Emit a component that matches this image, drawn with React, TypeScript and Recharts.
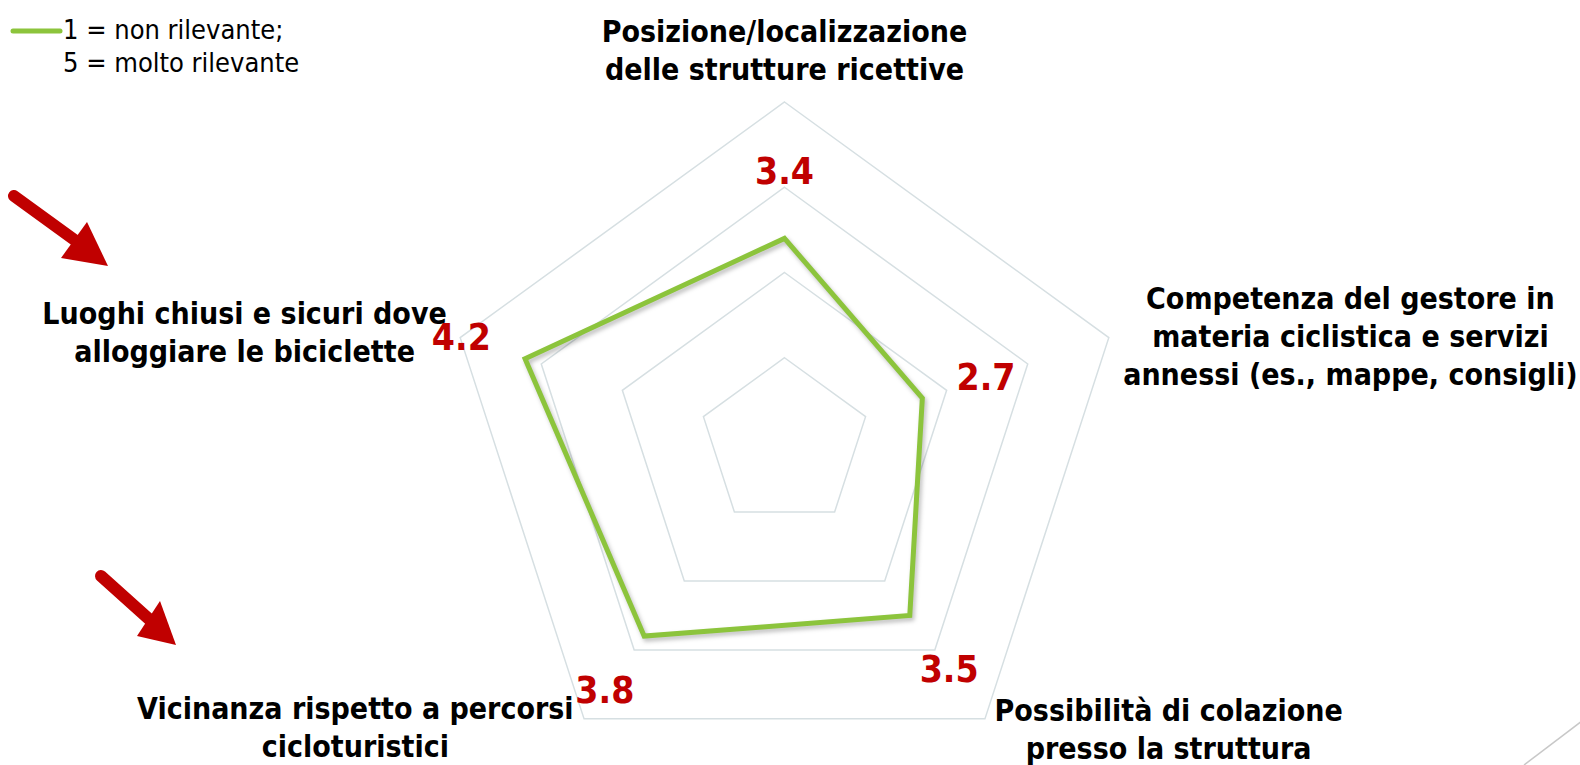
import React from 'react';
import {
  RadarChart,
  Radar,
  PolarGrid,
  PolarAngleAxis,
  PolarRadiusAxis,
} from 'recharts';

const categories = [
  'Posizione/localizzazione\ndelle strutture ricettive',
  'Competenza del gestore in\nmateria ciclistica e servizi\nannessi (es., mappe, consigli)',
  'Possibilità di colazione\npresso la struttura',
  'Vicinanza rispetto a percorsi\ncicloturistici',
  'Luoghi chiusi e sicuri dove\nalloggiare le biciclette',
];
const scores = [3.4, 2.7, 3.5, 3.8, 4.2];
const scaleTicks = [1, 2, 3, 4, 5];
const legendLines = ['1 = non rilevante;', '5 = molto rilevante'];

const data = categories.map((c, i) => ({ category: c, score: scores[i] }));

const W = 1580;
const H = 765;
const CX = 784.5;
const CY = 443;
const OUTER = 341;
const FONT = '"DejaVu Sans Condensed", "DejaVu Sans", sans-serif';

// where each category label sits relative to its axis tick point
const tickOffsets = [
  { dx: 0, dy: -63 },
  { dx: 234, dy: -37 },
  { dx: 179, dy: -15 },
  { dx: -224, dy: -17 },
  { dx: -208, dy: -22 },
];

const AngleTick = (props: any) => {
  const { x, y, payload } = props;
  const i = categories.indexOf(payload.value);
  const off = tickOffsets[i] || { dx: 0, dy: 0 };
  const lines = String(payload.value).split('\n');
  const tx = x + off.dx;
  return (
    <text
      x={tx}
      y={y + off.dy + 11}
      textAnchor="middle"
      fontFamily={FONT}
      fontWeight="bold"
      fontSize={30}
      fill="#000"
    >
      {lines.map((l, k) => (
        <tspan key={k} x={tx} dy={k === 0 ? 0 : 38}>
          {l}
        </tspan>
      ))}
    </text>
  );
};

const ValueLabel = (props: any) => {
  const { cx, cy, payload } = props;
  const dx = cx - CX;
  const dy = cy - CY;
  const len = Math.sqrt(dx * dx + dy * dy) || 1;
  const lx = cx + (dx / len) * 67;
  const ly = cy + (dy / len) * 67;
  const v = payload?.value ?? props.value;
  return (
    <text
      x={lx}
      y={ly}
      textAnchor="middle"
      dominantBaseline="central"
      fontFamily={FONT}
      fontWeight="bold"
      fontSize={37}
      fill="#c00000"
    >
      {Number(v).toFixed(1)}
    </text>
  );
};

export default function App() {
  return (
    <div style={{ position: 'absolute', left: 0, top: 0, width: W, height: H, background: '#fff' }}>
      <style>{`.recharts-radar-polygon path { filter: drop-shadow(2px 3px 2px rgba(0,0,0,0.25)); }`}</style>
      <RadarChart width={W} height={H} data={data} cx={CX} cy={CY} outerRadius={OUTER} margin={{ top: 0, right: 0, bottom: 0, left: 0 }}>
        <PolarGrid gridType="polygon" radialLines={false} stroke="#d6dfe2" strokeWidth={1.5} />
        <PolarAngleAxis dataKey="category" tick={<AngleTick />} tickLine={false} axisLine={false} />
        <PolarRadiusAxis domain={[1, 5]} ticks={scaleTicks as any} tickCount={5} tick={false} axisLine={false} />
        <Radar
          dataKey="score"
          stroke="#8cc43c"
          strokeWidth={5}
          fill="none"
          fillOpacity={0}
          dot={(p: any) => <ValueLabel key={p.index} {...p} />}
          isAnimationActive={false}
        />
      </RadarChart>
      <svg width={W} height={H} style={{ position: 'absolute', left: 0, top: 0, pointerEvents: 'none' }}>
        <line x1={13} y1={31} x2={60} y2={31} stroke="#8cc43c" strokeWidth={5} strokeLinecap="round" />
        {legendLines.map((t, i) => (
          <text key={i} x={63} y={39 + i * 33} fontFamily={FONT} fontSize={27} fill="#000">
            {t}
          </text>
        ))}
        <line x1={14} y1={196} x2={76} y2={241} stroke="#c00000" strokeWidth={12} strokeLinecap="round" />
        <polygon points="108,266 61,258 87,222" fill="#c00000" />
        <line x1={101} y1={576} x2={150} y2={620} stroke="#c00000" strokeWidth={12} strokeLinecap="round" />
        <polygon points="176,645 137,636 160,601" fill="#c00000" />
        <line x1={1582} y1={721} x2={1524} y2={765} stroke="#c8c8c8" strokeWidth={1.5} />
      </svg>
    </div>
  );
}
